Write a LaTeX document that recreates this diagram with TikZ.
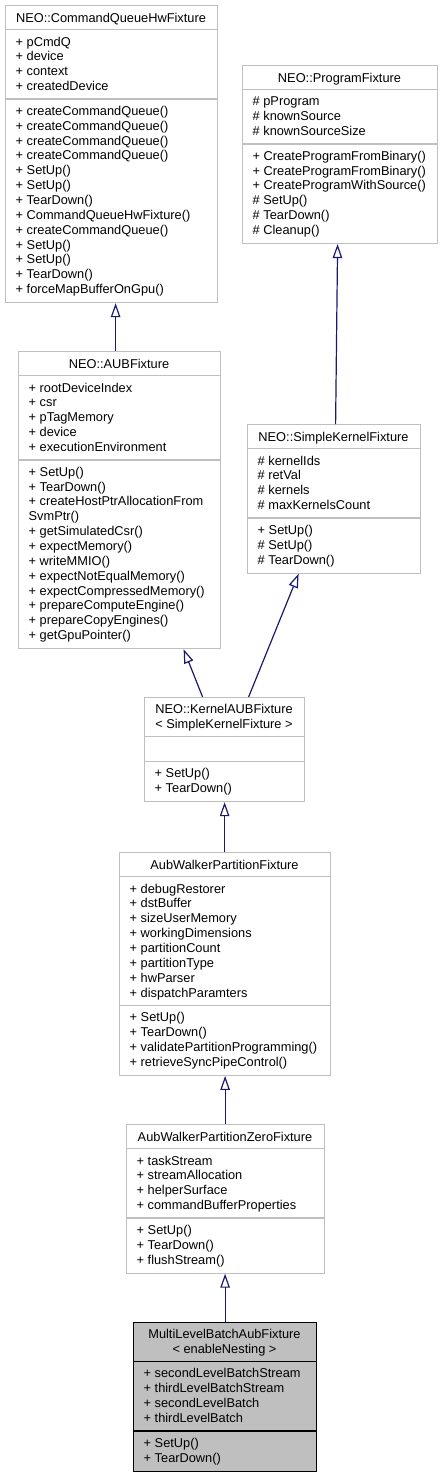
\documentclass[tikz,border=0pt]{standalone}
\usepackage{fontspec}
\setmainfont{Liberation Sans}
\usetikzlibrary{arrows.meta}
\definecolor{grey75}{HTML}{BFBFBF}
\definecolor{edgeblue}{HTML}{191970}
\newcommand{\dxfont}{\fontsize{12.8}{14.85}\selectfont}
\tikzset{
  cls/.style={draw=grey75, fill=white, line width=1.2pt, inner sep=0pt, anchor=north west},
  selcls/.style={draw=black, fill=grey75, line width=1.2pt, inner sep=0pt, anchor=north west},
  sepline/.style={draw=grey75, line width=1.2pt},
  selsep/.style={draw=black, line width=1.2pt},
  txt/.style={inner sep=0pt, anchor=north west, align=left, font=\dxfont, execute at begin node=\strut},
  ttl/.style={inner sep=0pt, anchor=north, align=center, font=\dxfont, execute at begin node=\strut},
  inh/.style={draw=edgeblue, line width=1.2pt, -{Triangle[open, length=14pt, width=9.5pt]}}
}
\begin{document}
\begin{tikzpicture}[x=1pt,y=-1pt]
\useasboundingbox (0,0) rectangle (442,1477);
\fill[white] (0,0) rectangle (442,1477);

% NEO::CommandQueueHwFixture
\node[cls, minimum width=212pt, minimum height=297pt] (cq) at (5,5) {};
\draw[sepline] (5,29.75) -- (217,29.75);
\draw[sepline] (5,99.05) -- (217,99.05);
\node[ttl] (cqT) at (111,11.9) {NEO::CommandQueueHwFixture};
\node[txt] (cqA) at (15.5,36.65) {+ pCmdQ\\+ device\\+ context\\+ createdDevice};
\node[txt] (cqM) at (15.5,105.95) {+ createCommandQueue()\\+ createCommandQueue()\\+ createCommandQueue()\\+ createCommandQueue()\\+ SetUp()\\+ SetUp()\\+ TearDown()\\+ CommandQueueHwFixture()\\+ createCommandQueue()\\+ SetUp()\\+ SetUp()\\+ TearDown()\\+ forceMapBufferOnGpu()};

% NEO::ProgramFixture
\node[cls, minimum width=195pt, minimum height=177.9pt] (prog) at (242,65) {};
\draw[sepline] (242,89.75) -- (437,89.75);
\draw[sepline] (242,143.9) -- (437,143.9);
\node[ttl] (progT) at (339.5,71.9) {NEO::ProgramFixture};
\node[txt] (progA) at (252.5,96.65) {\# pProgram\\\# knownSource\\\# knownSourceSize};
\node[txt] (progM) at (252.5,150.8) {+ CreateProgramFromBinary()\\+ CreateProgramFromBinary()\\+ CreateProgramWithSource()\\\# SetUp()\\\# TearDown()\\\# Cleanup()};

% NEO::AUBFixture
\node[cls, minimum width=202pt, minimum height=297pt] (aub) at (18,351) {};
\draw[sepline] (18,375.75) -- (220,375.75);
\draw[sepline] (18,459.9) -- (220,459.9);
\node[ttl] (aubT) at (119,357.9) {NEO::AUBFixture};
\node[txt] (aubA) at (28.5,382.65) {+ rootDeviceIndex\\+ csr\\+ pTagMemory\\+ device\\+ executionEnvironment};
\node[txt] (aubM) at (28.5,466.8) {+ SetUp()\\+ TearDown()\\+ createHostPtrAllocationFrom\\SvmPtr()\\+ getSimulatedCsr()\\+ expectMemory()\\+ writeMMIO()\\+ expectNotEqualMemory()\\+ expectCompressedMemory()\\+ prepareComputeEngine()\\+ prepareCopyEngines()\\+ getGpuPointer()};

% NEO::SimpleKernelFixture
\node[cls, minimum width=173pt, minimum height=148.5pt] (skf) at (247,424) {};
\draw[sepline] (247,448.75) -- (420,448.75);
\draw[sepline] (247,518.05) -- (420,518.05);
\node[ttl] (skfT) at (333.5,430.9) {NEO::SimpleKernelFixture};
\node[txt] (skfA) at (257.5,455.65) {\# kernelIds\\\# retVal\\\# kernels\\\# maxKernelsCount};
\node[txt] (skfM) at (257.5,524.95) {+ SetUp()\\\# SetUp()\\\# TearDown()};

% NEO::KernelAUBFixture< SimpleKernelFixture >
\node[cls, minimum width=160pt, minimum height=104pt] (kaub) at (144,697) {};
\draw[sepline] (144,736.6) -- (304,736.6);
\draw[sepline] (144,761.35) -- (304,761.35);
\node[ttl] (kaubT) at (224,703.9) {NEO::KernelAUBFixture\\< SimpleKernelFixture >};
\node[txt] (kaubM) at (154.5,768.25) {+ SetUp()\\+ TearDown()};

% AubWalkerPartitionFixture
\node[cls, minimum width=211pt, minimum height=222.75pt] (aw) at (119,852) {};
\draw[sepline] (119,876.75) -- (330,876.75);
\draw[sepline] (119,1005.45) -- (330,1005.45);
\node[ttl] (awT) at (224.5,858.9) {AubWalkerPartitionFixture};
\node[txt] (awA) at (129.5,883.65) {+ debugRestorer\\+ dstBuffer\\+ sizeUserMemory\\+ workingDimensions\\+ partitionCount\\+ partitionType\\+ hwParser\\+ dispatchParamters};
\node[txt] (awM) at (129.5,1012.35) {+ SetUp()\\+ TearDown()\\+ validatePartitionProgramming()\\+ retrieveSyncPipeControl()};

% AubWalkerPartitionZeroFixture
\node[cls, minimum width=198pt, minimum height=148.5pt] (zero) at (126,1124) {};
\draw[sepline] (126,1148.75) -- (324,1148.75);
\draw[sepline] (126,1218.05) -- (324,1218.05);
\node[ttl] (zeroT) at (225,1130.9) {AubWalkerPartitionZeroFixture};
\node[txt] (zeroA) at (136.5,1155.65) {+ taskStream\\+ streamAllocation\\+ helperSurface\\+ commandBufferProperties};
\node[txt] (zeroM) at (136.5,1224.95) {+ SetUp()\\+ TearDown()\\+ flushStream()};

% MultiLevelBatchAubFixture< enableNesting >
\node[selcls, minimum width=183pt, minimum height=148.5pt] (multi) at (133,1322) {};
\draw[selsep] (133,1361.6) -- (316,1361.6);
\draw[selsep] (133,1430.9) -- (316,1430.9);
\node[ttl] (multiT) at (224.5,1328.9) {MultiLevelBatchAubFixture\\< enableNesting >};
\node[txt] (multiA) at (143.5,1368.5) {+ secondLevelBatchStream\\+ thirdLevelBatchStream\\+ secondLevelBatch\\+ thirdLevelBatch};
\node[txt] (multiM) at (143.5,1437.8) {+ SetUp()\\+ TearDown()};

% inheritance connectors
\draw[inh] ([xshift=-4pt]aub.north) -- ([xshift=4pt]cq.south);
\draw[inh] ([xshift=1.5pt]skf.north) -- ([xshift=-2.5pt]prog.south);
\draw[inh] ([xshift=-22pt]kaub.north) -- ([xshift=64pt]aub.south);
\draw[inh] ([xshift=24pt]kaub.north) -- ([xshift=-35.5pt]skf.south);
\draw[inh] ([xshift=-0.5pt]aw.north) -- (kaub.south);
\draw[inh] ([xshift=-0.5pt]zero.north) -- (aw.south);
\draw[inh] (multi.north) -- ([xshift=-0.5pt]zero.south);
\end{tikzpicture}
\end{document}
